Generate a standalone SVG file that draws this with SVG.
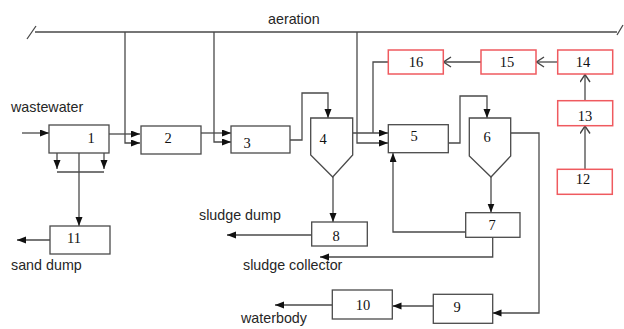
<svg xmlns="http://www.w3.org/2000/svg" width="624" height="329" viewBox="0 0 624 329">
  <style>
    .box { fill: #fff; stroke: #4a4a4a; stroke-width: 1.3; }
    .red { fill: #fff; stroke: #ef5a5f; stroke-width: 1.5; }
    .num { font-family: "Liberation Serif", "Times New Roman", serif; font-size: 14.5px; fill: #111; text-anchor: middle; }
    .lbl { font-family: "Liberation Sans", Arial, sans-serif; font-size: 14.3px; fill: #262626; }
    .ln { fill: none; stroke: #4a4a4a; stroke-width: 1.3; }
    .arr { marker-end: url(#head); }
    .open { marker-end: url(#vhead); }
  </style>
  <defs>
    <marker id="head" markerUnits="userSpaceOnUse" markerWidth="10" markerHeight="8" refX="9" refY="3.5" orient="auto">
      <path d="M0,0 L9,3.5 L0,7 Z" fill="#111"/>
    </marker>
    <marker id="vhead" markerUnits="userSpaceOnUse" markerWidth="10" markerHeight="12" refX="8.5" refY="5.5" orient="auto">
      <polyline points="1,0.5 8.5,5.5 1,10.5" fill="none" stroke="#444" stroke-width="1.4"/>
    </marker>
  </defs>

  <!-- aeration header -->
  <g id="aeration">
    <path class="ln" d="M35,32 H617 M27,39 L36,26 M617,35 L623,25"/>
    <text class="lbl" x="268" y="24">aeration</text>
  </g>

  <!-- free labels -->
  <g id="labels">
    <text class="lbl" x="11" y="112">wastewater</text>
    <text class="lbl" x="11" y="270">sand dump</text>
    <text class="lbl" x="199" y="220">sludge dump</text>
    <text class="lbl" x="243" y="270">sludge collector</text>
    <text class="lbl" x="241" y="323">waterbody</text>
  </g>

  <!-- connectors -->
  <g id="connectors">
    <path class="ln arr" d="M22,133 H49"/>
    <path class="ln arr" d="M109,134 H140"/>
    <path class="ln arr" d="M125,32 V143 H140"/>
    <path class="ln arr" d="M201,133 H231"/>
    <path class="ln arr" d="M214,32 V142 H231"/>
    <path class="ln arr" d="M290,140 H302 V93 H328 V118"/>
    <path class="ln arr" d="M352.7,133 H388"/>
    <path class="ln arr" d="M357,32 V143 H388"/>
    <path class="ln" d="M388,62 H373 V133"/>
    <path class="ln arr" d="M448,143 H460 V96 H487 V118"/>
    <path class="ln arr" d="M491,177 V212.5"/>
    <path class="ln arr" d="M510.7,133 H539 V313 H492.5"/>
    <path class="ln arr" d="M433,306 H392.5"/>
    <path class="ln arr" d="M332,305 H275"/>
    <path class="ln arr" d="M466,232 H393 V153"/>
    <path class="ln arr" d="M492.7,237 V257 H320"/>
    <path class="ln arr" d="M333,177 V222"/>
    <path class="ln arr" d="M312,235 H227"/>
    <path class="ln arr" d="M57,153 V169"/>
    <path class="ln arr" d="M104,153 V169"/>
    <path class="ln" d="M57,172 H104"/>
    <path class="ln arr" d="M79,153 V226"/>
    <path class="ln arr" d="M50,240 H17"/>
    <path class="ln open" d="M481,62 H443.5"/>
    <path class="ln open" d="M557.7,62 H536.5"/>
    <path class="ln open" d="M585,100.7 V74.5"/>
    <path class="ln open" d="M585,169.3 V126"/>
  </g>

  <!-- process units -->
  <g id="n1"><rect class="box" x="49" y="125" width="60" height="28"/><text class="num" x="91" y="143">1</text></g>
  <g id="n2"><rect class="box" x="141" y="126" width="60" height="28"/><text class="num" x="168" y="143">2</text></g>
  <g id="n3"><rect class="box" x="231" y="126" width="59" height="27"/><text class="num" x="247" y="148">3</text></g>
  <g id="n4"><path class="box" d="M310.7,118 H352.7 V155 L332.7,177 L310.7,155 Z"/><text class="num" x="323" y="144">4</text></g>
  <g id="n5"><rect class="box" x="388.3" y="124.7" width="60" height="28"/><text class="num" x="414" y="141">5</text></g>
  <g id="n6"><path class="box" d="M469.3,118 H510.7 V156 L491,177 L469.3,156 Z"/><text class="num" x="487" y="142">6</text></g>
  <g id="n7"><rect class="box" x="465.7" y="212.7" width="54.3" height="24.6"/><text class="num" x="492" y="230">7</text></g>
  <g id="n8"><rect class="box" x="311.7" y="222" width="55.6" height="24"/><text class="num" x="336" y="241">8</text></g>
  <g id="n9"><rect class="box" x="433.3" y="294.3" width="59.4" height="29"/><text class="num" x="457" y="312">9</text></g>
  <g id="n10"><rect class="box" x="332.3" y="290" width="60" height="29"/><text class="num" x="363" y="310">10</text></g>
  <g id="n11"><rect class="box" x="50" y="226" width="60" height="28"/><text class="num" x="74" y="243">11</text></g>
  <g id="n12"><rect class="red" x="557.3" y="169.3" width="55" height="25"/><text class="num" x="583" y="184">12</text></g>
  <g id="n13"><rect class="red" x="557.7" y="100.7" width="55" height="25"/><text class="num" x="585" y="121">13</text></g>
  <g id="n14"><rect class="red" x="557.7" y="50" width="55" height="24"/><text class="num" x="583" y="67">14</text></g>
  <g id="n15"><rect class="red" x="481" y="50" width="55" height="24"/><text class="num" x="507" y="67">15</text></g>
  <g id="n16"><rect class="red" x="388.3" y="50" width="55" height="24"/><text class="num" x="416" y="67">16</text></g>
</svg>
